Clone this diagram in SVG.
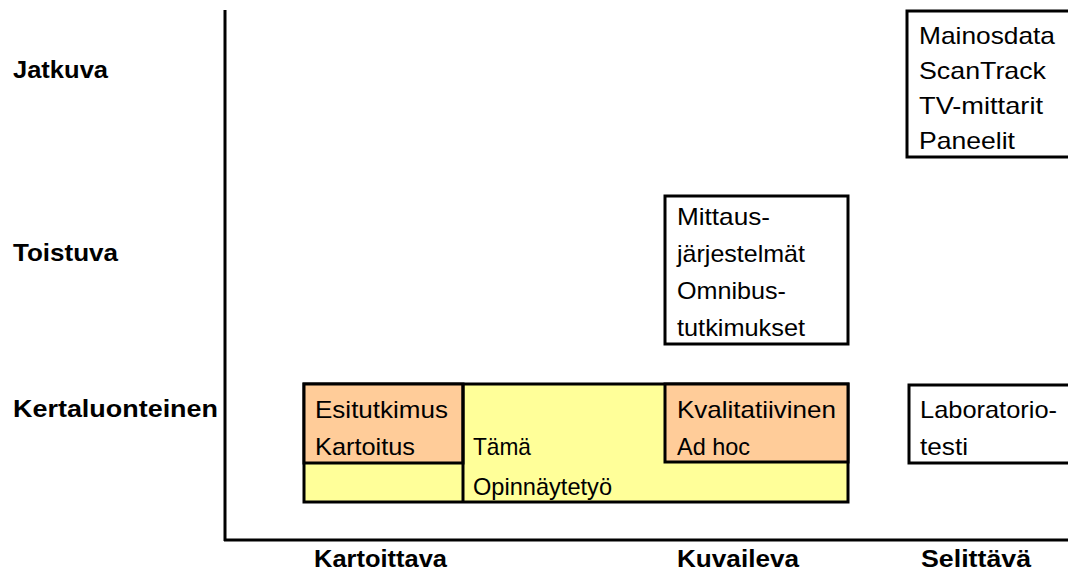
<svg xmlns="http://www.w3.org/2000/svg" width="1068" height="573" viewBox="0 0 1068 573">
<style>
.t{font-family:"Liberation Sans",Arial,sans-serif;font-size:24px;fill:#000}
.b{font-family:"Liberation Sans",Arial,sans-serif;font-size:24px;font-weight:bold;fill:#000}
.box{fill:#fff;stroke:#000;stroke-width:3}
.ln{stroke:#000;stroke-width:3;fill:none}
</style>
<rect width="1068" height="573" fill="#fff"/>
<g id="axes">
<line class="ln" x1="225" y1="10" x2="225" y2="541"/>
<line class="ln" x1="224" y1="540" x2="1068" y2="540"/>
</g>
<g id="row-labels">
<text class="b" x="13" y="78" textLength="95" lengthAdjust="spacingAndGlyphs">Jatkuva</text>
<text class="b" x="13" y="261" textLength="105" lengthAdjust="spacingAndGlyphs">Toistuva</text>
<text class="b" x="13" y="417" textLength="205" lengthAdjust="spacingAndGlyphs">Kertaluonteinen</text>
</g>
<g id="col-labels">
<text class="b" x="314" y="567" textLength="133" lengthAdjust="spacingAndGlyphs">Kartoittava</text>
<text class="b" x="677" y="567" textLength="122" lengthAdjust="spacingAndGlyphs">Kuvaileva</text>
<text class="b" x="921" y="567" textLength="110" lengthAdjust="spacingAndGlyphs">Selittävä</text>
</g>
<g id="jatkuva-box">
<rect class="box" x="907" y="11" width="170" height="146"/>
<text class="t" x="919" y="44" textLength="136" lengthAdjust="spacingAndGlyphs">Mainosdata</text>
<text class="t" x="919" y="79" textLength="127" lengthAdjust="spacingAndGlyphs">ScanTrack</text>
<text class="t" x="919" y="114" textLength="124" lengthAdjust="spacingAndGlyphs">TV-mittarit</text>
<text class="t" x="919" y="149" textLength="96" lengthAdjust="spacingAndGlyphs">Paneelit</text>
</g>
<g id="toistuva-box">
<rect class="box" x="665" y="196" width="183" height="148"/>
<text class="t" x="677" y="225" textLength="93" lengthAdjust="spacingAndGlyphs">Mittaus-</text>
<text class="t" x="677" y="262" textLength="128" lengthAdjust="spacingAndGlyphs">järjestelmät</text>
<text class="t" x="677" y="299" textLength="109" lengthAdjust="spacingAndGlyphs">Omnibus-</text>
<text class="t" x="677" y="336" textLength="128" lengthAdjust="spacingAndGlyphs">tutkimukset</text>
</g>
<g id="kertaluonteinen">
<rect x="304" y="384" width="544" height="118" fill="#ffff99" stroke="#000" stroke-width="3"/>
<rect x="304" y="384" width="159" height="79" fill="#ffcc99" stroke="#000" stroke-width="3"/>
<rect x="665" y="384" width="183" height="78" fill="#ffcc99" stroke="#000" stroke-width="3"/>
<line class="ln" x1="463" y1="384" x2="463" y2="502"/>
<text class="t" x="315" y="418" textLength="133" lengthAdjust="spacingAndGlyphs">Esitutkimus</text>
<text class="t" x="315" y="455" textLength="100" lengthAdjust="spacingAndGlyphs">Kartoitus</text>
<text class="t" x="473" y="455" textLength="58" lengthAdjust="spacingAndGlyphs">Tämä</text>
<text class="t" x="473" y="495" textLength="139" lengthAdjust="spacingAndGlyphs">Opinnäytetyö</text>
<text class="t" x="677" y="418" textLength="159" lengthAdjust="spacingAndGlyphs">Kvalitatiivinen</text>
<text class="t" x="677" y="455" textLength="73" lengthAdjust="spacingAndGlyphs">Ad hoc</text>
</g>
<g id="laboratorio-box">
<rect class="box" x="909" y="385" width="170" height="78"/>
<text class="t" x="920" y="418" textLength="137" lengthAdjust="spacingAndGlyphs">Laboratorio-</text>
<text class="t" x="920" y="455" textLength="48" lengthAdjust="spacingAndGlyphs">testi</text>
</g>
</svg>
